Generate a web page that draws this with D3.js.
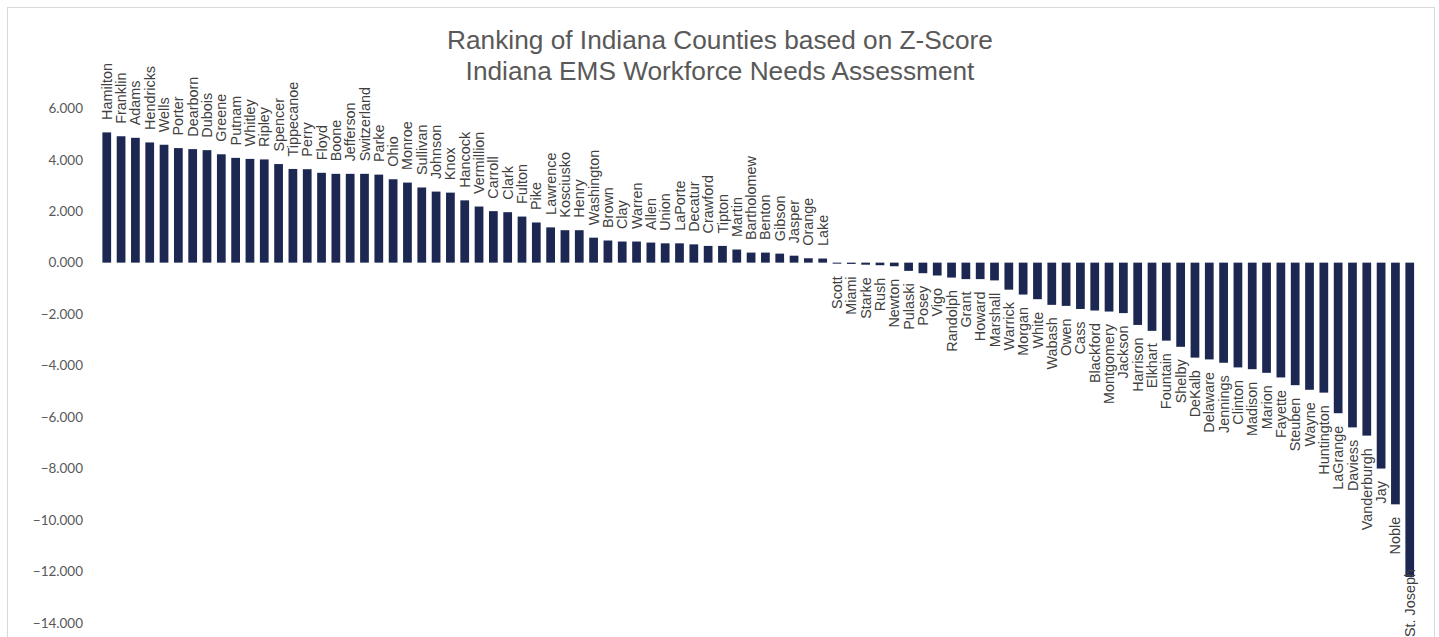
<!DOCTYPE html>
<html>
<head>
<meta charset="utf-8">
<script src="https://cdn.jsdelivr.net/npm/d3@7"></script>
<style>
  html, body { margin: 0; padding: 0; background: #ffffff; }
  svg { display: block; }
</style>
</head>
<body>
<svg id="chart" width="1439" height="637"></svg>
<script>
const titleLines = ["Ranking of Indiana Counties based on Z-Score", "Indiana EMS Workforce Needs Assessment"];

const counties = [
  "Hamilton","Franklin","Adams","Hendricks","Wells","Porter","Dearborn","Dubois","Greene","Putnam",
  "Whitley","Ripley","Spencer","Tippecanoe","Perry","Floyd","Boone","Jefferson","Switzerland","Parke",
  "Ohio","Monroe","Sullivan","Johnson","Knox","Hancock","Vermillion","Carroll","Clark","Fulton",
  "Pike","Lawrence","Kosciusko","Henry","Washington","Brown","Clay","Warren","Allen","Union",
  "LaPorte","Decatur","Crawford","Tipton","Martin","Bartholomew","Benton","Gibson","Jasper","Orange",
  "Lake","Scott","Miami","Starke","Rush","Newton","Pulaski","Posey","Vigo","Randolph",
  "Grant","Howard","Marshall","Warrick","Morgan","White","Wabash","Owen","Cass","Blackford",
  "Montgomery","Jackson","Harrison","Elkhart","Fountain","Shelby","DeKalb","Delaware","Jennings","Clinton",
  "Madison","Marion","Fayette","Steuben","Wayne","Huntington","LaGrange","Daviess","Vanderburgh","Jay",
  "Noble","St. Joseph"
];

const zScores = [
  5.06, 4.91, 4.85, 4.67, 4.58, 4.45, 4.41, 4.37, 4.21, 4.07,
  4.03, 4.01, 3.83, 3.64, 3.63, 3.49, 3.45, 3.45, 3.45, 3.42,
  3.24, 3.11, 2.92, 2.76, 2.72, 2.42, 2.18, 2.00, 1.96, 1.79,
  1.56, 1.37, 1.26, 1.26, 0.97, 0.86, 0.82, 0.82, 0.78, 0.75,
  0.75, 0.71, 0.65, 0.65, 0.51, 0.39, 0.39, 0.35, 0.27, 0.17,
  0.16, -0.04, -0.05, -0.08, -0.10, -0.14, -0.32, -0.41, -0.50, -0.58,
  -0.64, -0.64, -0.69, -1.05, -1.24, -1.42, -1.64, -1.68, -1.80, -1.86,
  -1.90, -1.96, -2.42, -2.65, -3.03, -3.27, -3.69, -3.76, -3.89, -4.07,
  -4.14, -4.28, -4.46, -4.76, -4.94, -5.05, -5.85, -6.40, -6.72, -8.00,
  -9.39, -12.21
];

const yTicks = [6, 4, 2, 0, -2, -4, -6, -8, -10, -12, -14];

const data = counties.map((c, i) => ({ name: c, value: zScores[i] }));

const svg = d3.select("#chart");

// chart frame
svg.append("rect")
  .attr("x", 7.5).attr("y", 7.5)
  .attr("width", 1427).attr("height", 660)
  .attr("fill", "#ffffff")
  .attr("stroke", "#d9d9d9")
  .attr("stroke-width", 1);

const x = d3.scaleBand()
  .domain(counties)
  .range([99.6, 1416.9])
  .paddingInner(0.39)
  .paddingOuter(0.195);

const y = d3.scaleLinear()
  .domain([-14, 6])
  .range([623, 108.2]);

// y axis (labels only)
const yAxis = d3.axisLeft(y)
  .tickValues(yTicks)
  .tickSize(0)
  .tickPadding(0)
  .tickFormat(d3.format(".3f"));

const gy = svg.append("g")
  .attr("transform", "translate(83,0)")
  .call(yAxis);
gy.select(".domain").remove();
gy.selectAll("text")
  .attr("fill", "#595959")
  .attr("font-family", "Lato, 'Open Sans', sans-serif")
  .attr("font-size", "13.5px");

// bars
svg.append("g").selectAll("rect")
  .data(data)
  .join("rect")
  .attr("x", d => x(d.name))
  .attr("width", x.bandwidth())
  .attr("y", d => y(Math.max(0, d.value)))
  .attr("height", d => Math.abs(y(d.value) - y(0)))
  .attr("fill", "#1c2852");

// category labels
const gap = 12.5;
const bottomLimit = 637;
const labels = svg.append("g").selectAll("text")
  .data(data)
  .join("text")
  .attr("font-family", "'Liberation Sans', Arial, sans-serif")
  .attr("font-size", "14.4px")
  .attr("fill", "#404040")
  .attr("dy", "0.35em")
  .attr("text-anchor", d => d.value >= 0 ? "start" : "end")
  .text(d => d.name);

labels.each(function(d) {
  const cx = x(d.name) + x.bandwidth() / 2;
  const len = this.getComputedTextLength();
  let ay;
  if (d.value >= 0) {
    ay = y(d.value) - gap;
  } else {
    ay = y(d.value) + gap;
    if (ay + len > bottomLimit) ay = bottomLimit - len;
  }
  d3.select(this).attr("transform", `translate(${cx},${ay}) rotate(-90)`);
});

// title
const titleTarget = 546;
const titleG = svg.append("g");
titleG.selectAll("text")
  .data(titleLines)
  .join("text")
  .attr("x", 720)
  .attr("y", (d, i) => 49 + i * 31)
  .attr("text-anchor", "middle")
  .attr("font-family", "'Liberation Sans', Arial, sans-serif")
  .attr("font-size", "26.5px")
  .attr("fill", "#595959")
  .text(d => d);

const w0 = titleG.select("text").node().getComputedTextLength();
const s = titleTarget / w0;
titleG.selectAll("text")
  .attr("transform", `translate(720,0) scale(${s},1) translate(-720,0)`);
</script>
</body>
</html>
